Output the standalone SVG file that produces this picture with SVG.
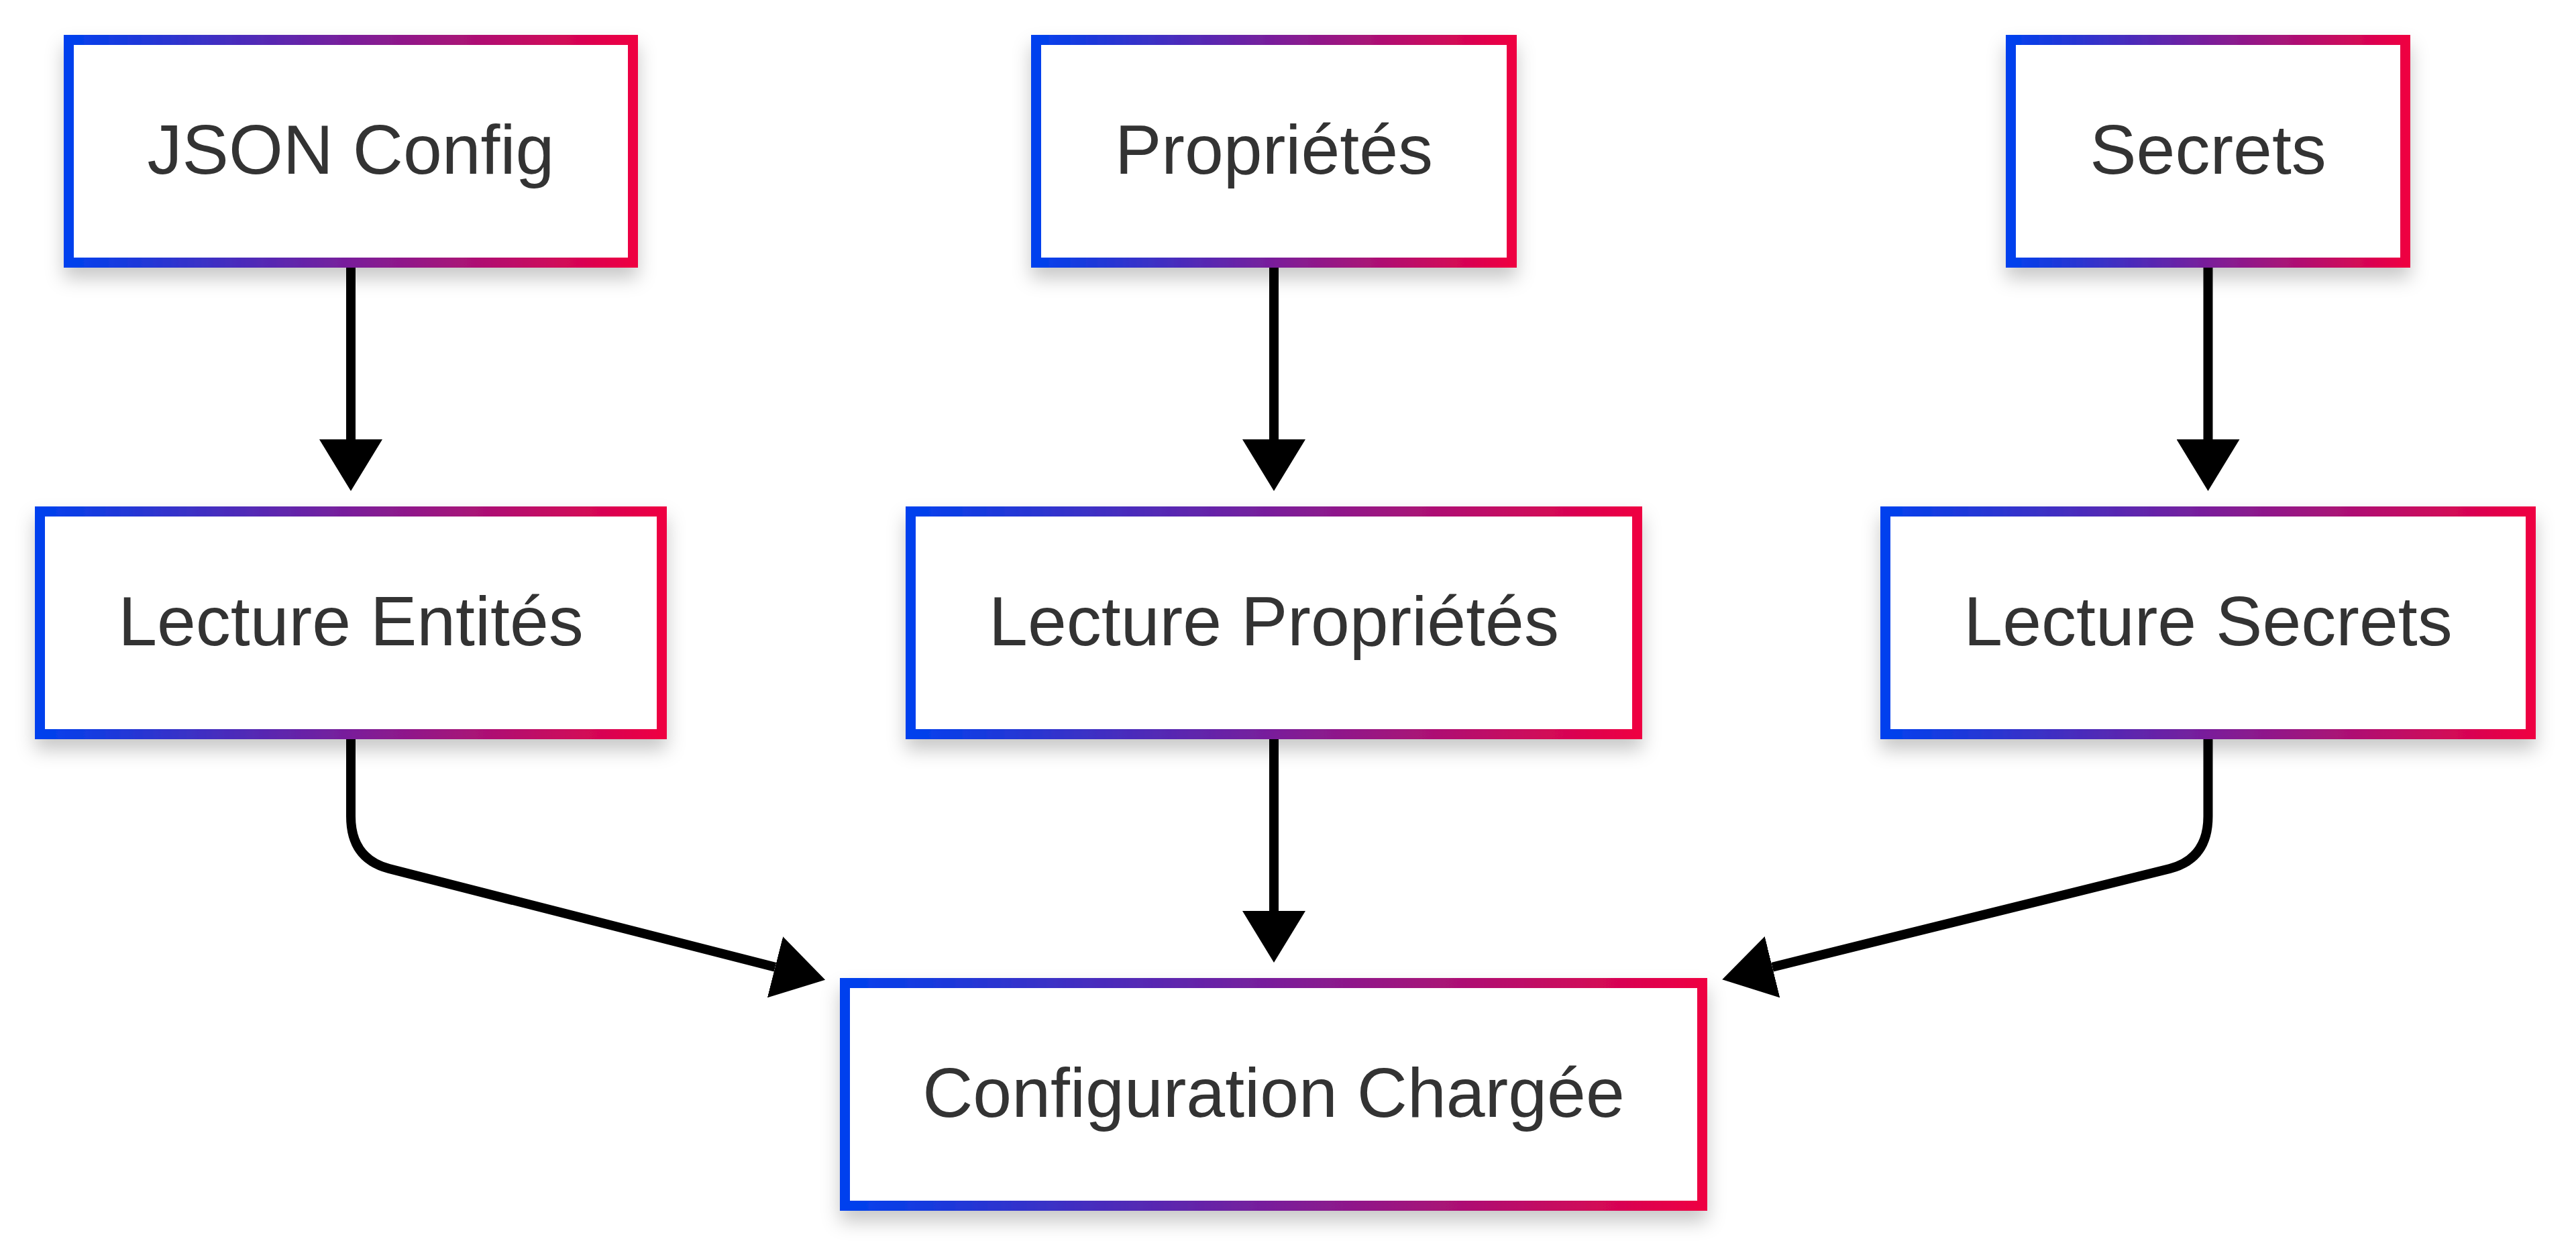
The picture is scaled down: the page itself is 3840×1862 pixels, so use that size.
<svg xmlns="http://www.w3.org/2000/svg" width="3840" height="1862" viewBox="0 0 3840 1862">
  <defs>
    <linearGradient id="grad" x1="0" y1="0" x2="1" y2="0">
      <stop offset="0" stop-color="#0041EE"/>
      <stop offset="0.5" stop-color="#7A1E9A"/>
      <stop offset="1" stop-color="#EE0042"/>
    </linearGradient>
    <filter id="shadow" x="-10%" y="-20%" width="120%" height="150%">
      <feDropShadow dx="0" dy="16" stdDeviation="14" flood-color="#000" flood-opacity="0.22"/>
    </filter>
    <marker id="arrow" viewBox="0 0 77 94" refX="0" refY="47" markerWidth="77" markerHeight="94" markerUnits="userSpaceOnUse" orient="auto">
      <path d="M0,0 L77,47 L0,94 z" fill="#000"/>
    </marker>
  </defs>
  <style>
    .box { fill: #ffffff; stroke: url(#grad); stroke-width: 15; filter: url(#shadow); }
    .label { font-family: "Liberation Sans", Arial, sans-serif; font-size: 104px; fill: #333333; text-anchor: middle; }
    .edge { fill: none; stroke: #000; stroke-width: 14; marker-end: url(#arrow); }
  </style>
  <rect width="3840" height="1862" fill="#ffffff"/>

  <g id="connectors">
    <path class="edge" d="M523,399 L523,655"/>
    <path class="edge" d="M1899,399 L1899,655"/>
    <path class="edge" d="M3291.5,399 L3291.5,655"/>
    <path class="edge" d="M1899,1102 L1899,1358"/>
    <path class="edge" d="M523,1102 L523,1217 Q523,1280 580,1295 L1155.5,1441.7"/>
    <path class="edge" d="M3291.5,1102 L3291.5,1217 Q3291.5,1280 3234.5,1295 L2642,1441.7"/>
  </g>

  <g id="node-json-config">
    <rect class="box" x="102.5" y="59.5" width="841" height="332"/>
    <text class="label" x="523" y="259">JSON Config</text>
  </g>
  <g id="node-proprietes">
    <rect class="box" x="1544.5" y="59.5" width="709" height="332"/>
    <text class="label" x="1899" y="259">Propriétés</text>
  </g>
  <g id="node-secrets">
    <rect class="box" x="2997.5" y="59.5" width="588" height="332"/>
    <text class="label" x="3291.5" y="259">Secrets</text>
  </g>
  <g id="node-lecture-entites">
    <rect class="box" x="59.5" y="762.5" width="927" height="332"/>
    <text class="label" x="523" y="962">Lecture Entités</text>
  </g>
  <g id="node-lecture-proprietes">
    <rect class="box" x="1357.5" y="762.5" width="1083" height="332"/>
    <text class="label" x="1899" y="962">Lecture Propriétés</text>
  </g>
  <g id="node-lecture-secrets">
    <rect class="box" x="2810.5" y="762.5" width="962" height="332"/>
    <text class="label" x="3291.5" y="962">Lecture Secrets</text>
  </g>
  <g id="node-configuration-chargee">
    <rect class="box" x="1259.5" y="1465.5" width="1278" height="332"/>
    <text class="label" x="1898.5" y="1665">Configuration Chargée</text>
  </g>
</svg>
